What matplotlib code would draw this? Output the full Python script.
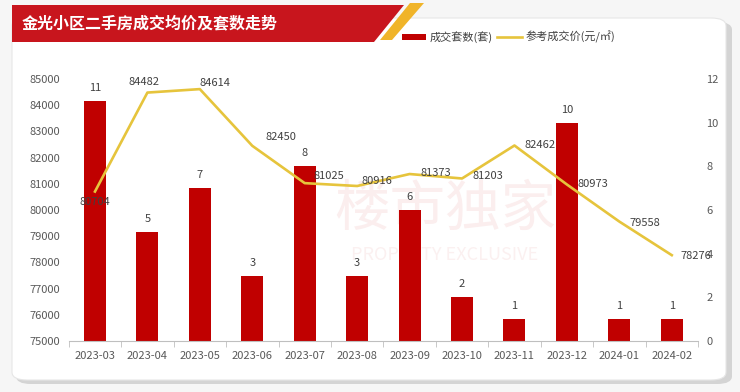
import matplotlib
matplotlib.use('Agg')
from matplotlib import pyplot as plt
from matplotlib.patches import FancyBboxPatch, Polygon

plt.rcParams['font.family'] = ['Noto Sans CJK SC', 'DejaVu Sans']

# data
months = ['2023-03', '2023-04', '2023-05', '2023-06', '2023-07', '2023-08',
          '2023-09', '2023-10', '2023-11', '2023-12', '2024-01', '2024-02']
deals = [11, 5, 7, 3, 8, 3, 6, 2, 1, 10, 1, 1]
prices = [80704, 84482, 84614, 82450, 81025, 80916, 81373, 81203, 82462, 80973, 79558, 78276]

title = '金光小区二手房成交均价及套数走势'
bar_name = '成交套数(套)'
line_name = '参考成交价(元/㎡)'

W, H = 740, 392
fig = plt.figure(figsize=(W / 100, H / 100), dpi=100)
fig.patch.set_facecolor('#f6f6f6')

def px(x, y):
    # pixel coords (top-left origin) -> figure fraction
    return x / W, 1 - y / H

# white card with a soft shadow
shadow = FancyBboxPatch(px(16, 384), 716 / W, 362 / H, boxstyle='round,pad=0,rounding_size=0.02',
                        transform=fig.transFigure, fc='#d4d4d4', ec='none', zorder=0)
card = FancyBboxPatch(px(12, 380), 714 / W, 362 / H, boxstyle='round,pad=0,rounding_size=0.02',
                      transform=fig.transFigure, fc='white', ec='#e6e6e6', lw=0.8, zorder=0)
fig.patches.extend([shadow, card])

# title banner
banner = Polygon([px(12, 5), px(404, 5), px(374, 42), px(12, 42)], closed=True,
                 transform=fig.transFigure, fc='#c8151d', ec='none', zorder=1)
stripe = Polygon([px(410, 3), px(424, 3), px(392, 40), px(380, 40)], closed=True,
                 transform=fig.transFigure, fc='#f0b429', ec='none', zorder=1)
fig.patches.extend([banner, stripe])
fig.text(*px(22, 23), title, color='white', fontsize=11.5, fontweight='bold', va='center', ha='left')

# faint watermark
fig.text(*px(445, 210), '楼市独家', color='#fbeeee', fontsize=40, ha='center', va='center', zorder=0.5)
fig.text(*px(445, 255), 'PROPERTY EXCLUSIVE', color='#fbf0f0', fontsize=13, ha='center', va='center', zorder=0.5)

l, b = px(68.75, 341)
r, t = px(698, 79)
ax = fig.add_axes([l, b, r - l, t - b], zorder=2)
ax.patch.set_alpha(0)
ax2 = ax.twinx()
ax2.patch.set_alpha(0)

x = list(range(len(months)))
ax.bar(x, deals, width=0.42, color='#c00000', zorder=2)
ax.set_ylim(0, 12)
ax.set_yticks(range(0, 13, 2))
ax.yaxis.tick_right()
for xi, d in zip(x, deals):
    ax.annotate(str(d), (xi, d), xytext=(0, 13), textcoords='offset pixels',
                ha='center', va='center', fontsize=8, color='#404040')

ax2.yaxis.tick_left()
ax2.plot(x, prices, color='#e6c43c', lw=1.9, zorder=3)
ax2.set_ylim(75000, 85000)
ax2.set_yticks(range(75000, 85001, 1000))

label_offsets = [(0, -10), (-3, 11), (15, 6), (29, 9), (24, 7), (20, 5),
                 (26, 1), (26, 2), (26, 0), (26, 1), (25, -1), (24, -1)]
for xi, p, off in zip(x, prices, label_offsets):
    ax2.annotate(str(p), (xi, p), xytext=off, textcoords='offset pixels',
                 ha='center', va='center', fontsize=8, color='#404040')

ax.set_xlim(-0.5, len(months) - 0.5)
ax.set_xticks(x)
ax.set_xticklabels(months)
ax.set_xticks([i - 0.5 for i in range(len(months) + 1)], minor=True)
ax.tick_params(axis='x', which='major', length=0, pad=7, labelsize=8, labelcolor='#595959')
ax.tick_params(axis='x', which='minor', length=4, color='#bfbfbf')
ax.tick_params(axis='y', length=0, labelsize=8, labelcolor='#595959', pad=6)
ax2.tick_params(axis='y', length=0, labelsize=8, labelcolor='#595959', pad=6)

for a in (ax, ax2):
    for s in ('top', 'left', 'right'):
        a.spines[s].set_visible(False)
ax.spines['bottom'].set_color('#bfbfbf')
ax2.spines['bottom'].set_visible(False)

# legend drawn by hand to match the top-right placement
fig.patches.append(plt.Rectangle(px(402, 40), 24 / W, 6 / H, transform=fig.transFigure,
                                 fc='#c00000', ec='none'))
fig.text(*px(430, 37), bar_name, fontsize=8, color='#404040', va='center')
fig.lines.append(plt.Line2D([497 / W, 522 / W], [1 - 37 / H] * 2, transform=fig.transFigure,
                            color='#e6c43c', lw=1.9))
fig.text(*px(526, 37), line_name, fontsize=8, color='#404040', va='center')

fig.savefig('out.png', dpi=100, facecolor=fig.get_facecolor())
